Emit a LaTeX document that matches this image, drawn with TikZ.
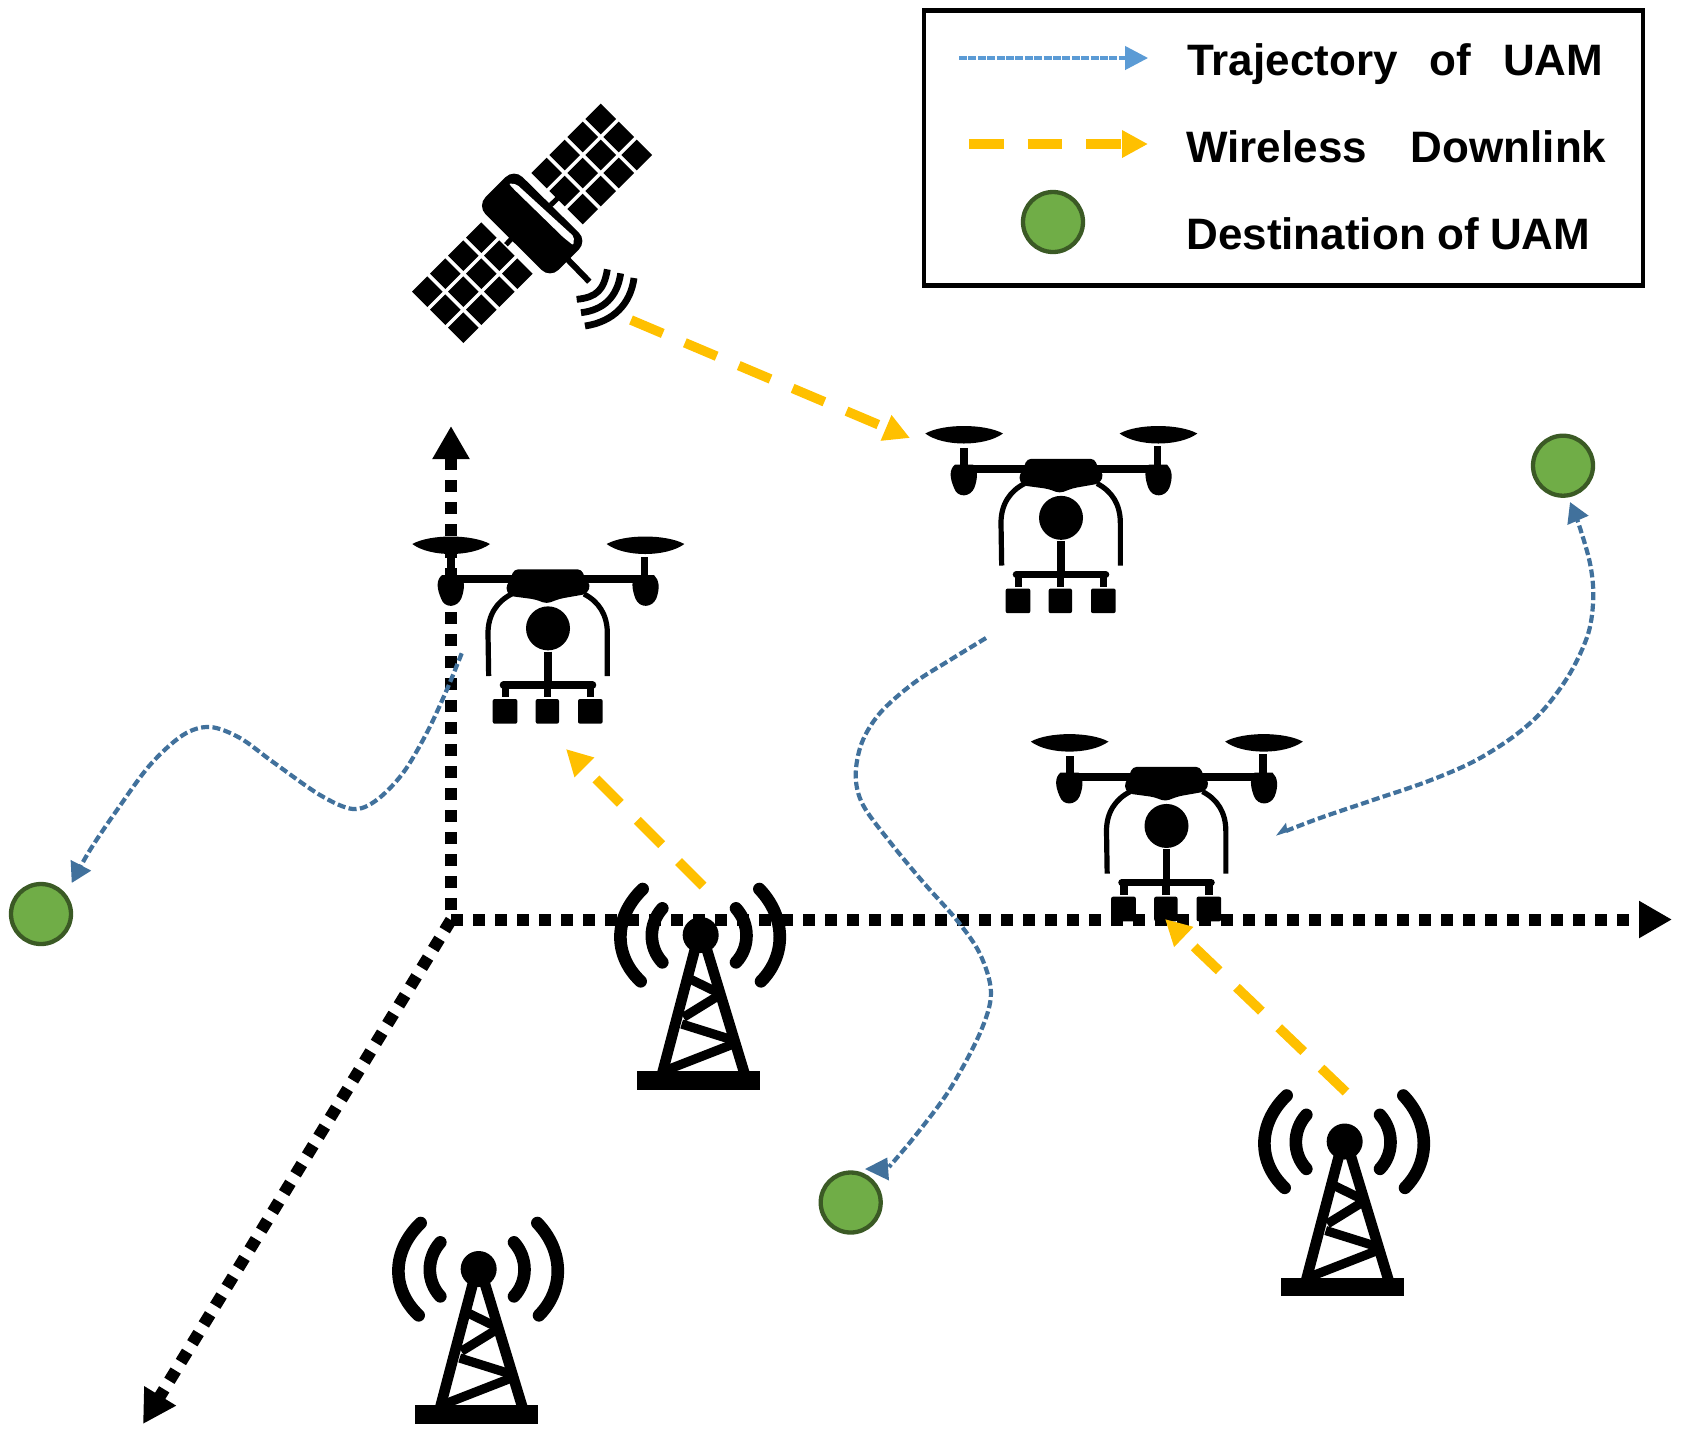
\documentclass[tikz,border=0pt]{standalone}
\usepackage{fontspec}
\setmainfont{Liberation Sans}
\usetikzlibrary{arrows.meta}
\definecolor{trajblue}{HTML}{41719C}
\definecolor{legblue}{HTML}{5B9BD5}
\definecolor{linkorange}{HTML}{FFC000}
\definecolor{destgreen}{HTML}{70AD47}
\definecolor{destedge}{HTML}{3B5A25}
\tikzset{
  axisline/.style={line width=6pt,dash pattern=on 6pt off 5pt,-{Triangle[length=16.5pt,width=17.5pt]}},
  linkarrow/.style={draw=linkorange,line width=4.8pt,dash pattern=on 17.25pt off 12pt,-{Triangle[length=13pt,width=13pt,fill=linkorange]}},
  trajline/.style={draw=trajblue,line width=2.1pt,dash pattern=on 4pt off 1.7pt},
  trajhead/.style={-{Triangle[length=10pt,width=11pt,fill=trajblue]}},
  dest/.style={circle,draw=destedge,fill=destgreen,line width=2.15pt,minimum size=30pt,inner sep=0pt},
  legtext/.style={anchor=base west,inner sep=0pt,font=\fontsize{22}{26}\selectfont\bfseries},
  dronepic/.pic={
    \begin{scope}[x=.16667pt,y=-.16667pt]
      % rotors
      \fill (37,72) .. controls (90,42) and (215,42) .. (270,72) .. controls (215,112) and (90,112) .. cycle;
      \fill (620,72) .. controls (673,42) and (798,42) .. (853,72) .. controls (798,112) and (673,112) .. cycle;
      % stems and arm
      \fill (142,115) rectangle (165,175);
      \fill (722,110) rectangle (745,175);
      \fill (125,165) rectangle (760,190);
      % motors
      \fill (126,165) -- (180,165) .. controls (195,180) and (195,205) .. (184,235) .. controls (172,264) and (133,266) .. (123,235) .. controls (110,205) and (108,180) .. cycle;
      \fill (708,165) -- (762,165) .. controls (778,180) and (780,205) .. (769,235) .. controls (757,264) and (718,266) .. (706,235) .. controls (695,205) and (693,180) .. cycle;
      % body
      \fill[rounded corners=2pt] (342,148) -- (545,148) -- (555,175) -- (572,195) -- (560,222) -- (480,236) -- (440,251) -- (405,238) -- (330,228) -- (316,205) -- (332,175) -- cycle;
      % landing legs
      \draw[line width=2.6pt] (335,222) .. controls (290,245) and (264,285) .. (264,340) -- (266,468);
      \draw[line width=2.6pt] (552,222) .. controls (597,245) and (622,285) .. (622,340) -- (622,468);
      % camera head and mount
      \fill (444,325) circle (66);
      \draw[line width=3.6pt] (444,395) -- (444,495);
      \draw[line width=3.6pt,line cap=round] (310,495) -- (578,495);
      \draw[line width=3.8pt] (316,495) -- (316,532);
      \draw[line width=3.8pt] (443,495) -- (443,532);
      \draw[line width=3.8pt] (572,495) -- (572,532);
      \fill[rounded corners=1pt] (278,537) rectangle (352,611);
      \fill[rounded corners=1pt] (407,537) rectangle (477,611);
      \fill[rounded corners=1pt] (534,537) rectangle (608,611);
    \end{scope}
  },
  towerpic/.pic={
    \begin{scope}[x=.16667pt,y=-.16667pt]
      \fill (111,606) rectangle (480,662);
      \fill (302,198) circle (54);
      \draw[line width=5.3pt] (285,240) -- (187,612);
      \draw[line width=5.3pt] (320,240) -- (433,612);
      \draw[line width=4.6pt] (270,330) -- (348,368);
      \draw[line width=4.6pt] (352,382) -- (250,445);
      \draw[line width=4.6pt] (245,465) -- (395,512);
      \draw[line width=4.6pt] (400,525) -- (200,603);
      \begin{scope}[line width=6.3pt,line cap=round]
        \draw (187,118) .. controls (145,165) and (145,235) .. (187,280);
        \draw (128,60) .. controls (40,145) and (40,260) .. (122,337);
        \draw (408,118) .. controls (450,165) and (450,235) .. (408,280);
        \draw (478,60) .. controls (559,145) and (559,260) .. (483,337);
      \end{scope}
    \end{scope}
  },
  satpic/.pic={
    \begin{scope}[x=.16667pt,y=-.16667pt]
      \foreach \cx/\cy in {602/87,656/141,710/195,548/141,602/195,656/249,494/195,548/249,602/303,440/249,494/303,548/357,
                           244/443,298/497,352/551,190/497,244/551,298/605,136/551,190/605,244/659,82/605,136/659,190/713}
        \fill (\cx,\cy-46) -- (\cx+46,\cy) -- (\cx,\cy+46) -- (\cx-46,\cy) -- cycle;
      % stubs joining the panels to the body
      \draw[line width=2.5pt] (452,345) -- (480,318);
      \draw[line width=2.5pt] (340,440) -- (318,464);
      % body
      \fill[rounded corners=6pt] (342,236) -- (231,347) -- (450,565) -- (562,453) -- cycle;
      \fill[white,rounded corners=1pt] (326,280) -- (350,283) -- (522,440) -- (520,466) -- (490,442) -- (340,296) -- cycle;
      % antenna
      \draw[line width=3pt] (500,505) -- (568,575);
      % signal
      \begin{scope}[line width=3.4pt]
        \draw (622,538) .. controls (612,600) and (590,622) .. (530,628);
        \draw (662,550) .. controls (652,620) and (612,660) .. (543,668);
        \draw (702,564) .. controls (692,640) and (642,695) .. (555,708);
      \end{scope}
    \end{scope}
  }
}
\begin{document}
\begin{tikzpicture}[x=.5pt,y=-.5pt]
\useasboundingbox (0,0) rectangle (1682,1442);

% axes
\coordinate (o) at (451,920);
\coordinate (ytip) at (451,426);
\coordinate (xtip) at (1672,919.5);
\coordinate (ztip) at (143,1424);
\coordinate (ystart) at (451,910);
\coordinate (xstart) at (451,919.5);
\draw[axisline] (ystart) -- (ytip);
\draw[axisline] (xstart) -- (xtip);
\draw[axisline] (o) -- (ztip);

% icons
\pic (sat) at (400,90) {satpic};
\pic (tower1) at (600,869) {towerpic};
\pic (tower2) at (1244,1075.5) {towerpic};
\pic (tower3) at (378,1203) {towerpic};
\pic (drone1) at (400,520) {dronepic};
\pic (drone2) at (913,409.5) {dronepic};
\pic (drone3) at (1018.5,717.6) {dronepic};

% destinations
\node[dest] (g1) at (41,914) {};
\node[dest] (g2) at (850.7,1202.5) {};
\node[dest] (g3) at (1563,465.7) {};

% downlinks
\coordinate (a1) at (631,320);
\coordinate (a2) at (910,438);
\coordinate (b1) at (703,886);
\coordinate (b2) at (566,749);
\coordinate (c1) at (1346,1092);
\coordinate (c2) at (1165,919);
\draw[linkarrow] (a1) -- (a2);
\draw[linkarrow] (b1) -- (b2);
\draw[linkarrow] (c1) -- (c2);

% trajectories
\coordinate (t1s) at (461.7,653.3);
\coordinate (t1e) at (71.7,883);
\draw[trajline,trajhead] plot[smooth,tension=.55] coordinates {(t1s) (446.7,690) (426.7,733) (403,773) (376.7,800) (353,809) (320,795) (273,762) (240,738) (210,727) (183,735) (150,765) (117,810) (90,850) (t1e)};

\coordinate (t2s) at (986,638);
\coordinate (t2e) at (889,1167);
\coordinate (t2tip) at (865,1169);
\draw[trajline] plot[smooth,tension=.55] coordinates {(t2s) (950,660) (913,683.6) (880,713) (861.7,743) (855.7,776) (863,805) (890,842) (923,882) (956.7,920) (980,954) (991,993) (980,1033) (950,1089) (916.7,1134) (t2e)};
\fill[trajblue] (t2tip) -- (887.3,1157.5) -- (889,1180.5) -- cycle;

\coordinate (t3s) at (1286,831);
\coordinate (t3tip) at (1276,835.7);
\coordinate (t3e) at (1570,502);
\draw[trajline,trajhead] plot[smooth,tension=.55] coordinates {(t3s) (1320,818) (1373,800) (1426.7,781.7) (1473.3,761.7) (1513.3,736.7) (1543.3,710) (1570,673.3) (1588.3,633.3) (1593.3,596.7) (1590,563.3) (1579,525) (t3e)};
\fill[trajblue] (t3tip) -- (1286,822.7) -- (1287.5,832) -- cycle;

% legend
\node[draw,line width=2.3pt,minimum width=359.5pt,minimum height=137.75pt,inner sep=0pt] (legend) at (1283.5,148) {};
\coordinate (l1a) at (959,58);
\coordinate (l1b) at (1148,58);
\draw[draw=legblue,line width=1.6pt,dash pattern=on 4pt off .7pt,-{Triangle[length=11.5pt,width=11.7pt,fill=legblue]}] (l1a) -- (l1b);
\coordinate (l2a) at (969,144);
\coordinate (l2b) at (1148,144);
\draw[linkarrow] (l2a) -- (l2b);
\node[dest] (lg) at (1053,222) {};
\node[legtext] (t1) at (1187,75) {\makebox[208pt][s]{Trajectory of UAM}};
\node[legtext] (t2) at (1186,162.7) {\makebox[210pt][s]{Wireless Downlink}};
\node[legtext] (t3) at (1186,249) {\makebox[202pt][s]{Destination of UAM}};
\end{tikzpicture}
\end{document}
